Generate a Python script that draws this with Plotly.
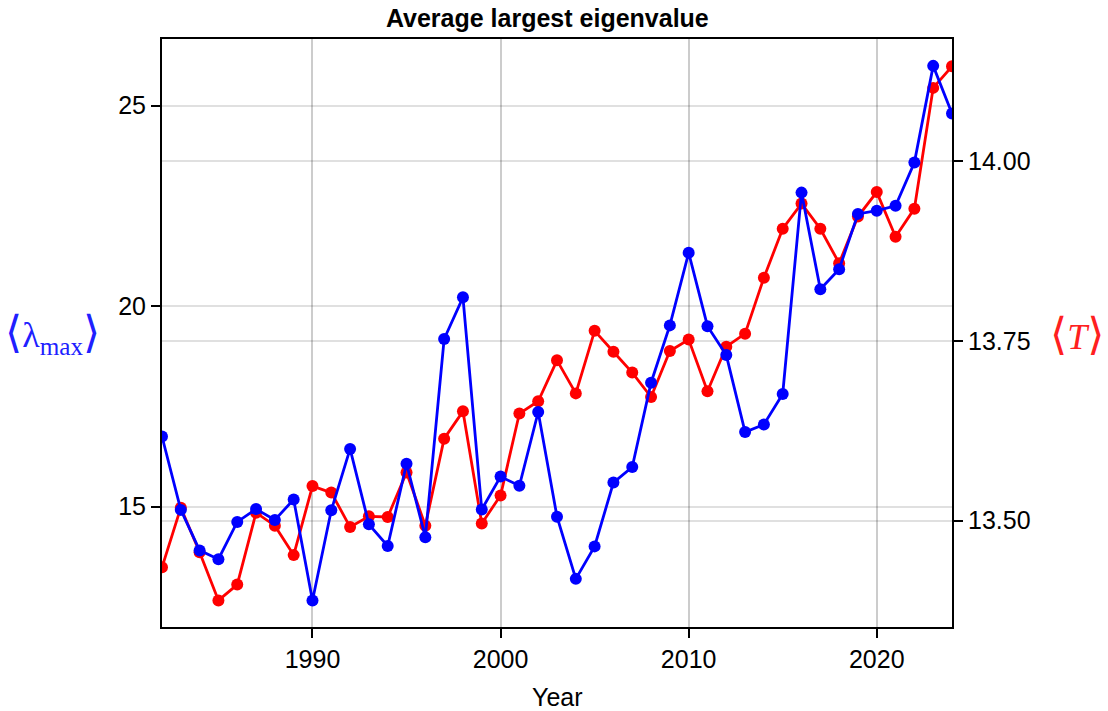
import plotly.graph_objects as go

years = list(range(1982, 2025))

lambda_max = [16.75, 14.92, 13.91, 13.69, 14.62, 14.94, 14.67, 15.18, 12.66, 14.91,
              16.44, 14.56, 14.02, 16.07, 14.24, 19.18, 20.22, 14.93, 15.75, 15.52,
              17.36, 14.75, 13.20, 14.01, 15.60, 15.99, 18.09, 19.52, 21.33, 19.50,
              18.78, 16.86, 17.05, 17.81, 22.83, 20.42, 20.92, 22.30, 22.38, 22.50,
              23.58, 25.99, 24.80]

temperature = [13.435, 13.518, 13.456, 13.389, 13.411, 13.511, 13.493, 13.452, 13.548, 13.539,
               13.491, 13.506, 13.505, 13.567, 13.493, 13.614, 13.652, 13.496, 13.535, 13.649,
               13.666, 13.723, 13.677, 13.764, 13.735, 13.706, 13.672, 13.736, 13.752, 13.680,
               13.742, 13.760, 13.838, 13.906, 13.941, 13.906, 13.858, 13.923, 13.957, 13.895,
               13.934, 14.102, 14.132]

x_ticks = [1990, 2000, 2010, 2020]
left_ticks = [15, 20, 25]
right_ticks = [13.50, 13.75, 14.00]
right_tick_text = ["13.50", "13.75", "14.00"]

FONT = "Liberation Sans, Arial, Helvetica, sans-serif"
SERIF = "Liberation Serif, DejaVu Serif, serif"
TICKSIZE = 25
BR = '<span style="font-family:DejaVu Serif;font-size:44px">{}</span>'

fig = go.Figure()
fig.add_trace(go.Scatter(x=years, y=temperature, mode="lines+markers", yaxis="y",
                         line=dict(color="#ff0000", width=2.8),
                         marker=dict(color="#ff0000", size=12), showlegend=False))
fig.add_trace(go.Scatter(x=years, y=lambda_max, mode="lines+markers", yaxis="y2",
                         line=dict(color="#0000ff", width=2.8),
                         marker=dict(color="#0000ff", size=12), showlegend=False))

axis_common = dict(showline=True, linecolor="black", linewidth=2, ticks="outside",
                   ticklen=9, tickwidth=1.5, tickcolor="black", zeroline=False,
                   tickfont=dict(family=FONT, size=TICKSIZE, color="black"))

fig.update_layout(
    width=1108, height=711,
    margin=dict(l=162, r=156, t=39, b=84),
    paper_bgcolor="white", plot_bgcolor="white",
    font=dict(family=FONT, color="black"),
    title=dict(text="<b>Average largest eigenvalue</b>", xref="container", yref="container",
               x=0.494, y=0.974, xanchor="center", yanchor="middle",
               font=dict(family=FONT, size=25, color="black")),
    xaxis=dict(range=[1982, 2024], tickvals=x_ticks, mirror=True,
               showgrid=True, gridcolor="rgba(0,0,0,0.2)", gridwidth=1.5,
               **axis_common),
    yaxis=dict(range=[13.352, 14.170], tickvals=right_ticks, ticktext=right_tick_text,
               side="right", showgrid=True, gridcolor="rgba(0,0,0,0.12)", gridwidth=1.5,
               **axis_common),
    yaxis2=dict(range=[12.0, 26.66], tickvals=left_ticks, side="left", overlaying="y",
                showgrid=True, gridcolor="rgba(0,0,0,0.12)", gridwidth=1.5,
                **axis_common),
    annotations=[
        dict(text="Year", xref="paper", yref="paper", x=0.5, y=-0.119,
             xanchor="center", yanchor="middle", showarrow=False,
             font=dict(family=FONT, size=TICKSIZE, color="black")),
        dict(text=BR.format("⟨") + "λ<sub>max</sub>" + BR.format("⟩"),
             xref="paper", yref="paper", x=-0.138, y=0.5,
             xanchor="center", yanchor="middle", showarrow=False,
             font=dict(family=SERIF, size=36, color="#2020ff")),
        dict(text=BR.format("⟨") + "<i>T</i>" + BR.format("⟩"),
             xref="paper", yref="paper", x=1.158, y=0.5,
             xanchor="center", yanchor="middle", showarrow=False,
             font=dict(family=SERIF, size=36, color="#ff2020")),
    ],
)

fig.write_html("out.html")
